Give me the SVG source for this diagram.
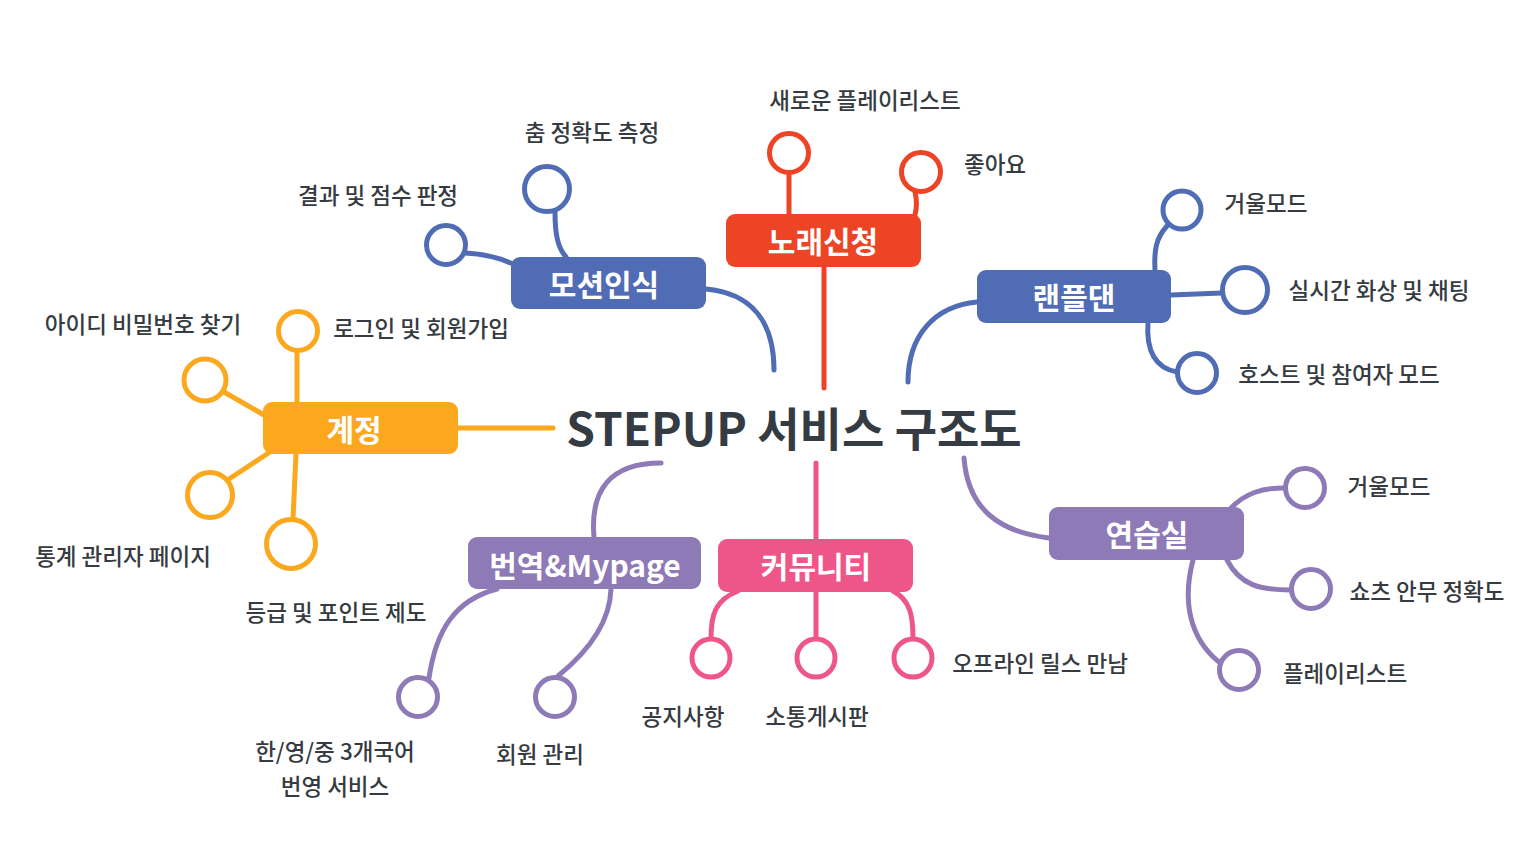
<svg xmlns="http://www.w3.org/2000/svg" width="1523" height="850" viewBox="0 0 1523 850">
<style>
.bg{fill:#ffffff}
.c{fill:none;stroke-width:5;stroke-linecap:round}
.red{stroke:#ee4426}.blue{stroke:#506cb5}.org{stroke:#fca81e}.pur{stroke:#8e7ab6}.pnk{stroke:#ee568a}
.leaf{fill:#ffffff;stroke-width:5}
.rf{fill:#ee4426}.bf{fill:#506cb5}.of{fill:#fca81e}.pf{fill:#8e7ab6}.kf{fill:#ee568a}
.nt{font-family:"Noto Sans CJK KR","Noto Sans",sans-serif;font-weight:700;font-size:30px;fill:#ffffff;text-anchor:middle;dominant-baseline:central}
.lb{font-family:"Noto Sans CJK KR","Noto Sans",sans-serif;font-weight:500;font-size:22.5px;fill:#353b41;text-anchor:middle;dominant-baseline:central}
.tt{font-family:"Noto Sans CJK KR","Noto Sans",sans-serif;font-weight:700;font-size:46px;fill:#343b43;text-anchor:middle;dominant-baseline:central}
</style>
<rect class="bg" x="0" y="0" width="1523" height="850"/>
<g id="connectors">
  <path class="c red" d="M824,267 L824,388"/>
  <path class="c blue" d="M706,289 C750,293 774,320 774,370"/>
  <path class="c blue" d="M977,302 C935,306 908,335 908,382"/>
  <path class="c org" d="M457,428 L553,428"/>
  <path class="c pur" d="M594,537 C590,490 610,463 661,463"/>
  <path class="c pnk" d="M816,539 L816,463"/>
  <path class="c pur" d="M1049,538 C1000,532 968,510 964,458"/>
  <path class="c red" d="M789,173 L789,214"/>
  <path class="c red" d="M915,192 C917,200 917,207 915,215"/>
  <path class="c blue" d="M555,212 C555,235 558,248 566,257"/>
  <path class="c blue" d="M465,253 C485,254 500,258 513,264"/>
  <path class="c blue" d="M1167,226 C1156,238 1154,250 1155,270"/>
  <path class="c blue" d="M1171,295 L1222,293"/>
  <path class="c blue" d="M1148,322 C1146,350 1155,368 1177,372"/>
  <path class="c org" d="M297,350 L297,402"/>
  <path class="c org" d="M224,392 L264,415"/>
  <path class="c org" d="M226,481 L270,452"/>
  <path class="c org" d="M296,454 L293,519"/>
  <path class="c pur" d="M429,678 C436,630 455,600 497,589"/>
  <path class="c pur" d="M558,676 C590,650 610,620 611,589"/>
  <path class="c pnk" d="M738,591 C715,600 711,615 711,638"/>
  <path class="c pnk" d="M816,591 L816,638"/>
  <path class="c pnk" d="M893,591 C910,600 913,615 913,638"/>
  <path class="c pur" d="M1230,509 C1245,493 1262,488 1284,488"/>
  <path class="c pur" d="M1227,560 C1240,585 1260,590 1290,590"/>
  <path class="c pur" d="M1193,560 C1180,610 1195,645 1223,665"/>
</g>
<g id="title">
  <text class="tt" x="794" y="426">STEPUP 서비스 구조도</text>
</g>
<g id="node-song">
  <rect class="rf" x="726" y="214" width="195" height="53" rx="9"/>
  <text class="nt" x="823" y="240">노래신청</text>
</g>
<g id="node-motion">
  <rect class="bf" x="511" y="257" width="195" height="52" rx="9"/>
  <text class="nt" x="604" y="283">모션인식</text>
</g>
<g id="node-randomplay">
  <rect class="bf" x="977" y="270" width="194" height="53" rx="9"/>
  <text class="nt" x="1074" y="296">랜플댄</text>
</g>
<g id="node-account">
  <rect class="of" x="263" y="402" width="195" height="52" rx="9"/>
  <text class="nt" x="354" y="428">계정</text>
</g>
<g id="node-translate">
  <rect class="pf" x="468" y="537" width="233" height="52" rx="9"/>
  <text class="nt" x="585" y="564">번역&amp;Mypage</text>
</g>
<g id="node-community">
  <rect class="kf" x="718" y="539" width="195" height="53" rx="9"/>
  <text class="nt" x="816" y="565">커뮤니티</text>
</g>
<g id="node-practice">
  <rect class="pf" x="1049" y="507" width="195" height="53" rx="9"/>
  <text class="nt" x="1147" y="533">연습실</text>
</g>
<g id="leaf-new-playlist"><circle class="leaf red" cx="789" cy="153" r="19.5"/><text class="lb" x="865" y="99">새로운 플레이리스트</text></g>
<g id="leaf-like"><circle class="leaf red" cx="921" cy="172" r="19.5"/><text class="lb" x="995" y="163">좋아요</text></g>
<g id="leaf-dance-acc"><circle class="leaf blue" cx="547" cy="189" r="22.5"/><text class="lb" x="592" y="131">춤 정확도 측정</text></g>
<g id="leaf-result"><circle class="leaf blue" cx="446" cy="245" r="19.5"/><text class="lb" x="378" y="194">결과 및 점수 판정</text></g>
<g id="leaf-mirror1"><circle class="leaf blue" cx="1182" cy="210" r="19"/><text class="lb" x="1266" y="202">거울모드</text></g>
<g id="leaf-live"><circle class="leaf blue" cx="1245" cy="290" r="22.5"/><text class="lb" x="1379" y="289">실시간 화상 및 채팅</text></g>
<g id="leaf-host"><circle class="leaf blue" cx="1197" cy="373" r="19.5"/><text class="lb" x="1339" y="373">호스트 및 참여자 모드</text></g>
<g id="leaf-login"><circle class="leaf org" cx="298" cy="331" r="19.5"/><text class="lb" x="421" y="327">로그인 및 회원가입</text></g>
<g id="leaf-findid"><circle class="leaf org" cx="205" cy="380" r="21"/><text class="lb" x="143" y="323">아이디 비밀번호 찾기</text></g>
<g id="leaf-stats"><circle class="leaf org" cx="210" cy="495" r="22.5"/><text class="lb" x="123" y="555">통계 관리자 페이지</text></g>
<g id="leaf-grade"><circle class="leaf org" cx="291" cy="544" r="24.5"/><text class="lb" x="336" y="611">등급 및 포인트 제도</text></g>
<g id="leaf-translate"><circle class="leaf pur" cx="418" cy="697" r="19.5"/><text class="lb" x="335" y="750">한/영/중 3개국어</text><text class="lb" x="335" y="785">번영 서비스</text></g>
<g id="leaf-member"><circle class="leaf pur" cx="555" cy="697" r="19.5"/><text class="lb" x="540" y="753">회원 관리</text></g>
<g id="leaf-notice"><circle class="leaf pnk" cx="711" cy="658" r="19"/><text class="lb" x="683" y="715">공지사항</text></g>
<g id="leaf-board"><circle class="leaf pnk" cx="816" cy="658" r="19"/><text class="lb" x="817" y="715">소통게시판</text></g>
<g id="leaf-offline"><circle class="leaf pnk" cx="913" cy="658" r="19"/><text class="lb" x="1040" y="662">오프라인 릴스 만남</text></g>
<g id="leaf-mirror2"><circle class="leaf pur" cx="1305" cy="488" r="19.5"/><text class="lb" x="1389" y="485">거울모드</text></g>
<g id="leaf-shorts"><circle class="leaf pur" cx="1311" cy="589" r="19.5"/><text class="lb" x="1427" y="590">쇼츠 안무 정확도</text></g>
<g id="leaf-playlist"><circle class="leaf pur" cx="1239" cy="670" r="19.5"/><text class="lb" x="1345" y="672">플레이리스트</text></g>
</svg>
